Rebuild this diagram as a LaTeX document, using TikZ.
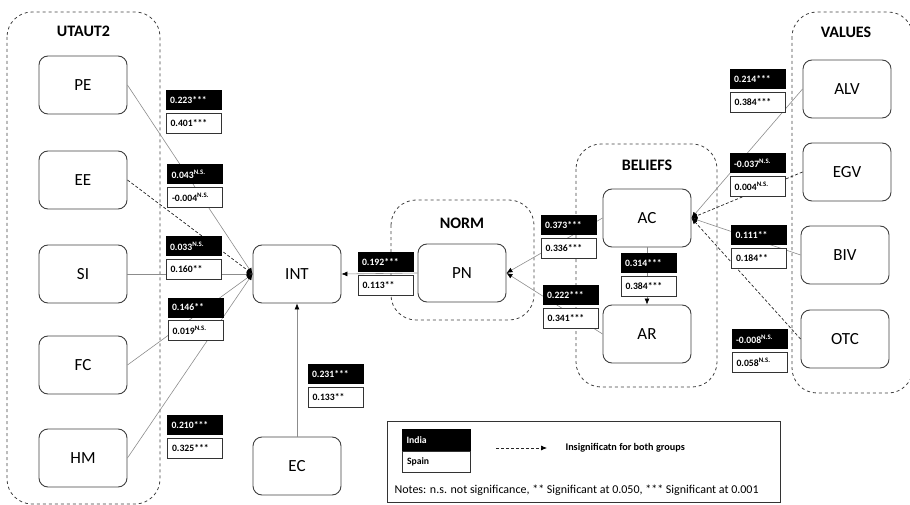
\documentclass[tikz,border=0pt]{standalone}
\usepackage{fontspec}
\setmainfont{Carlito}
\usetikzlibrary{arrows.meta,positioning}

% coefficient pair: India on top, Spain below
\newcommand{\coefpair}[5]{
	\node[india] (#1i) at (#2,#3) {#4};
	\node[spain, below=2.5pt of #1i] (#1s) {#5};
}
\newcommand{\ns}{\textsuperscript{N.S.}}

\begin{document}
\begin{tikzpicture}[
			x=1pt, y=-1pt,
			construct/.style={
				draw=black!75,
				line width=0.9pt,
				rounded corners=9pt,
				minimum width=88pt,
				minimum height=58pt,
				font=\fontsize{17}{20}\selectfont
			},
			group/.style={
				draw=black!75,
				dashed,
				line width=0.8pt,
				rounded corners=25pt
			},
			grouplabel/.style={font=\bfseries\fontsize{16}{19}\selectfont},
			india/.style={
				fill=black, text=white,
				text width=47pt, align=left,
				inner xsep=4.5pt, inner ysep=0pt,
				minimum height=20pt,
				font=\bfseries\fontsize{9.7}{11}\selectfont
			},
			spain/.style={
				draw=black!80, fill=white,
				line width=0.6pt,
				text width=46pt, align=left,
				inner xsep=4.5pt, inner ysep=0pt,
				minimum height=20pt,
				font=\bfseries\fontsize{9.7}{11}\selectfont
			},
			path/.style={draw=black!45, line width=0.6pt, -{Latex[length=6pt,width=5pt,black]}},
			nspath/.style={draw=black!85, line width=0.7pt, dash pattern=on 3pt off 2pt, -{Latex[length=6pt,width=5pt,black]}}
			]

			\useasboundingbox (0,0) rectangle (910,505);

			% Groups
			\draw[group] (7,12) rectangle (160,504);
			\draw[group] (391,200) rectangle (534,320);
			\draw[group] (576,144) rectangle (717,387);
			\draw[group] (792,12) rectangle (913,393);

			\node[grouplabel] (utaut) at (83.5,31) {UTAUT2};
			\node[grouplabel] (norm) at (462,223) {NORM};
			\node[grouplabel] (beliefs) at (647,165) {BELIEFS};
			\node[grouplabel] (values) at (846,32) {VALUES};

			% UTAUT2 constructs
			\node[construct] (pe) at (83,85) {PE};
			\node[construct] (ee) at (83,180) {EE};
			\node[construct] (si) at (83,274) {SI};
			\node[construct] (fc) at (83,365) {FC};
			\node[construct] (hm) at (83,458) {HM};

			% Intention and others
			\node[construct] (int) at (297,274) {INT};
			\node[construct] (ec) at (297,466) {EC};
			\node[construct] (pn) at (462,273) {PN};
			\node[construct] (ac) at (647,218) {AC};
			\node[construct] (ar) at (647,334) {AR};

			% Values constructs
			\node[construct] (alv) at (847,89) {ALV};
			\node[construct] (egv) at (847,172) {EGV};
			\node[construct] (biv) at (845,255) {BIV};
			\node[construct] (otc) at (845,339) {OTC};

			% Paths
			\draw[path] (pe.east) -- (int.west);
			\draw[nspath] (ee.east) -- (int.west);
			\draw[path] (si.east) -- (int.west);
			\draw[path] (fc.east) -- (int.west);
			\draw[path] (hm.east) -- (int.west);
			\draw[path] (ec) -- (int);
			\draw[path] (pn.west) -- (int.east);
			\draw[path] (ac.west) -- (pn.east);
			\draw[path] (ar.west) -- (pn.east);
			\draw[path] (ac) -- (ar);
			\draw[path] (alv.west) -- (ac.east);
			\draw[nspath] (egv.west) -- (ac.east);
			\draw[path] (biv.west) -- (ac.east);
			\draw[nspath] (otc.west) -- (ac.east);

			% Coefficients
			\coefpair{pe}{193.5}{100}{0.223***}{0.401***}
			\coefpair{ee}{195}{174}{0.043\ns}{-0.004\ns}
			\coefpair{si}{193.5}{246}{0.033\ns}{0.160**}
			\coefpair{fc}{195.5}{307.5}{0.146**}{0.019\ns}
			\coefpair{hm}{195}{425}{0.210***}{0.325***}
			\coefpair{ec}{335.5}{374}{0.231***}{0.133**}
			\coefpair{pn}{385.5}{262}{0.192***}{0.113**}
			\coefpair{acpn}{568.5}{225}{0.373***}{0.336***}
			\coefpair{arpn}{570.5}{295}{0.222***}{0.341***}
			\coefpair{acar}{648.5}{263}{0.314***}{0.384***}
			\coefpair{alv}{757.5}{79.5}{0.214***}{0.384***}
			\coefpair{egv}{757.5}{163}{-0.037\ns}{0.004\ns}
			\coefpair{biv}{759}{235}{0.111**}{0.184**}
			\coefpair{otc}{759.5}{339}{-0.008\ns}{0.058\ns}

			% Legend
			\draw[draw=black!80, line width=0.7pt] (387,421) rectangle (780,502);
			\node[india, text width=60pt, minimum height=22pt] (legindia) at (436.5,440) {India};
			\node[spain, text width=59pt, minimum height=21pt, below=0pt of legindia] (legspain) {Spain};
			\coordinate (dashstart) at (496,448);
			\coordinate (dashend) at (547,448);
			\draw[nspath] (dashstart) -- (dashend);
			\node[anchor=west, font=\bfseries\fontsize{10.2}{12}\selectfont] (legtext) at (562,448) {Insignificatn for both groups};
			\node[anchor=west, font=\fontsize{12}{14}\selectfont] (notes) at (391,490)
			{Notes: n.s. not significance, ** Significant at 0.050, *** Significant at 0.001};

		\end{tikzpicture}
\end{document}
